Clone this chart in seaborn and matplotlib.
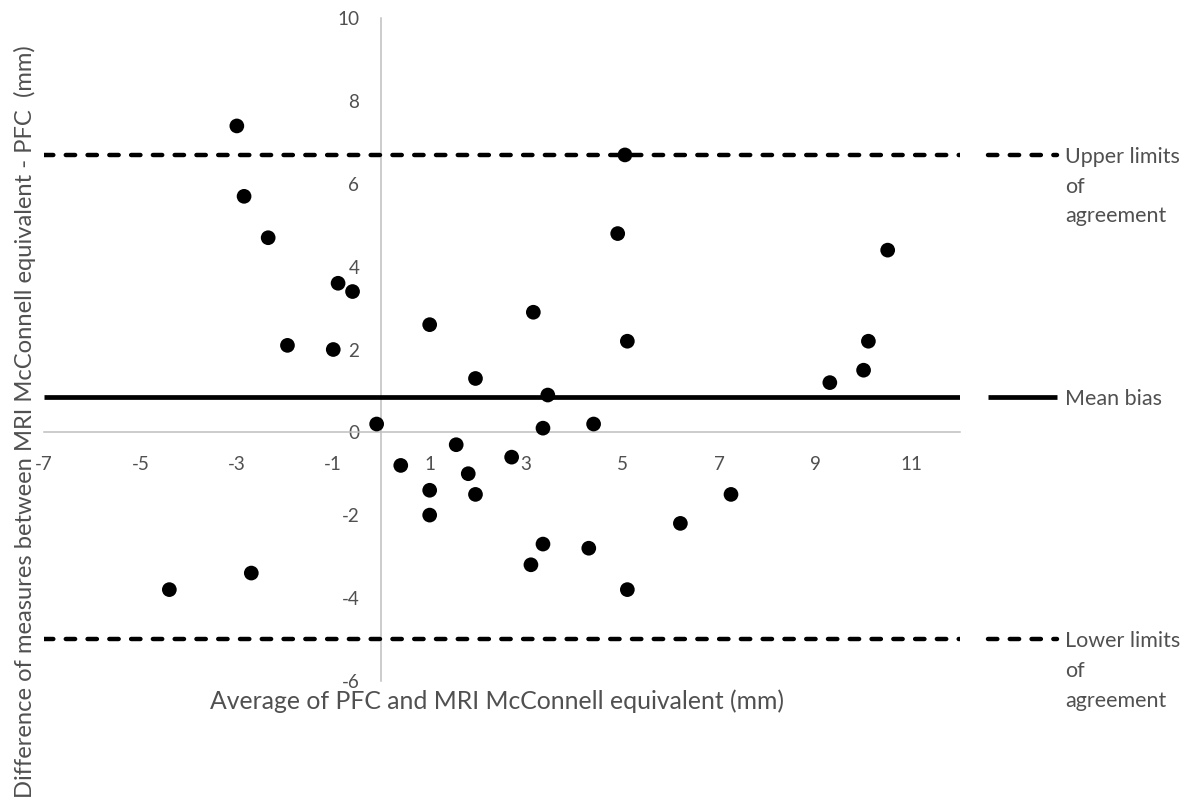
import matplotlib
matplotlib.use("Agg")
import matplotlib.pyplot as plt
import matplotlib.transforms as mtransforms
import pandas as pd
import seaborn as sns

# ---- data ----
avg_mm = [-3.0, -2.85, -2.35, -0.9, -0.6, -1.95, -1.0, 1.0,
          5.05, 4.9, 3.15, 5.1, 1.95, 3.45, 3.35, 4.4,
          -0.1, 0.4, 1.0, 1.0, -4.4, -2.7,
          1.55, 2.7, 1.8, 1.95, 3.35, 3.1, 4.3, 5.1, 6.2, 7.25,
          10.5, 10.1, 10.0, 9.3]
diff_mm = [7.4, 5.7, 4.7, 3.6, 3.4, 2.1, 2.0, 2.6,
           6.7, 4.8, 2.9, 2.2, 1.3, 0.9, 0.1, 0.2,
           0.2, -0.8, -1.4, -2.0, -3.8, -3.4,
           -0.3, -0.6, -1.0, -1.5, -2.7, -3.2, -2.8, -3.8, -2.2, -1.5,
           4.4, 2.2, 1.5, 1.2]
mean_bias = 0.85
upper_loa = 6.7
lower_loa = -5.0

x_ticks = [-7, -5, -3, -1, 1, 3, 5, 7, 9, 11]
y_ticks = [-6, -4, -2, 0, 2, 4, 6, 8, 10]
x_label = "Average of PFC and MRI McConnell equivalent (mm)"
y_label = "Difference of measures between MRI McConnell equivalent - PFC  (mm)"
legend_labels = ["Upper limits\nof\nagreement", "Mean bias", "Lower limits\nof\nagreement"]

# ---- style ----
sns.set_theme(style="white")
plt.rcParams['font.family'] = ['Lato', 'DejaVu Sans']
plt.rcParams['axes.unicode_minus'] = False

TEXT = '#505050'
AXIS = '#BFBFBF'
W, H = 1194, 809

fig = plt.figure(figsize=(W / 100, H / 100), dpi=100)
ax = fig.add_axes([44 / W, 1 - 680.7 / H, 916 / W, 662.4 / H])

df = pd.DataFrame({'avg': avg_mm, 'diff': diff_mm})
sns.scatterplot(data=df, x='avg', y='diff', ax=ax, color='black', s=112,
                edgecolor='none', linewidth=0, zorder=5, legend=False)

dash_style = dict(color='black', lw=3.2, dashes=(2.1, 2.8), dash_capstyle='round')
solid_style = dict(color='black', lw=3.4, solid_capstyle='butt')
ax.axhline(upper_loa, zorder=3, **dash_style)
ax.axhline(lower_loa, zorder=3, **dash_style)
ax.axhline(mean_bias, zorder=3, **solid_style)

ax.set_xlim(-7, 12)
ax.set_ylim(-6, 10)
ax.set_xticks(x_ticks)
ax.set_yticks(y_ticks)
ax.set_xticklabels([str(t) for t in x_ticks])
ax.set_yticklabels([str(t) for t in y_ticks])

for side in ['top', 'right']:
    ax.spines[side].set_visible(False)
for side in ['left', 'bottom']:
    ax.spines[side].set_position(('data', 0))
    ax.spines[side].set_color(AXIS)
    ax.spines[side].set_linewidth(1.1)
    ax.spines[side].set_zorder(1)

ax.tick_params(axis='x', length=0, pad=17, labelsize=13.6, labelcolor=TEXT)
ax.tick_params(axis='y', length=0, pad=16, labelsize=13.6, labelcolor=TEXT)
ax.grid(False)

ax.set_xlabel(x_label, fontsize=17.8, color=TEXT)
ax.xaxis.label.set_va('center')
ax.xaxis.set_label_coords((497 - 44) / 916, (680.7 - 701.5) / 662.4)
ax.set_ylabel(y_label, fontsize=17.1, color=TEXT)
ax.yaxis.label.set_va('center')
ax.yaxis.set_label_coords((25 - 44) / 916, (680.7 - 422) / 662.4)

# ---- legend entries placed beside their lines ----
trans = mtransforms.blended_transform_factory(ax.transAxes, ax.transData)
x0, x1, xt = (988 - 44) / 916, (1057 - 44) / 916, (1065 - 44) / 916
for yv, lab, st in zip([upper_loa, mean_bias, lower_loa], legend_labels,
                       [dash_style, solid_style, dash_style]):
    ax.plot([x0, x1], [yv, yv], transform=trans, clip_on=False, **st)
    ax.annotate(lab, xy=(xt, yv), xycoords=trans, xytext=(0, 6),
                textcoords='offset points', ha='left', va='top',
                fontsize=15.5, color=TEXT, linespacing=1.62, annotation_clip=False)

fig.savefig('out.png', dpi=100)
